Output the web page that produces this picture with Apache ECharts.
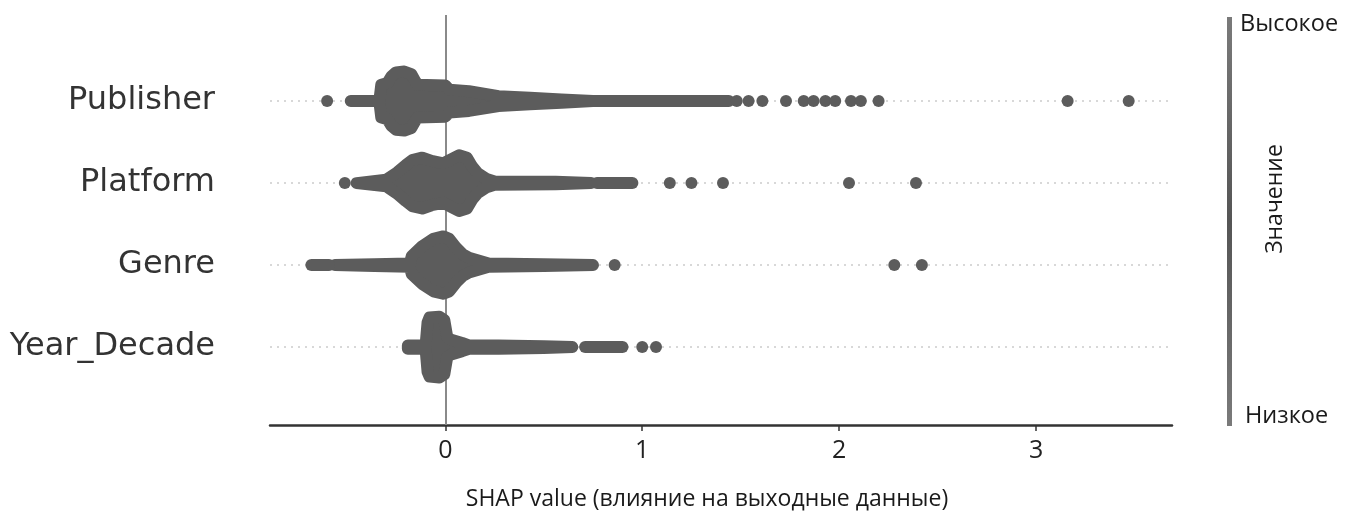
<!DOCTYPE html>
<html>
<head>
<meta charset="utf-8">
<script src="https://cdn.jsdelivr.net/npm/echarts@6/dist/echarts.min.js"></script>
<style>
  html, body { margin: 0; padding: 0; background: #fff; }
  #chart { width: 1354px; height: 518px; }
</style>
</head>
<body>
<div id="chart"></div>
<script>
// признаки, снизу вверх по оси y
var featureNames = ['Year_Decade', 'Genre', 'Platform', 'Publisher'];
var rowTicks = [0, 1, 2, 3];
var xTicks = [0, 1, 2, 3];

// плотное тело роя: [SHAP value, полуширина в долях строки]
var publisherBody = [[-0.48, 0], [-0.335, 0], [-0.325, 0.20], [-0.294, 0.22], [-0.274, 0.30], [-0.25, 0.35],
    [-0.208, 0.36], [-0.173, 0.33], [-0.152, 0.24], [-0.142, 0.20], [0, 0.19], [0.02, 0.14], [0.12, 0.12],
    [0.27, 0.06], [0.43, 0.04], [0.59, 0.02], [0.75, 0], [1.44, 0]];
var platformBody = [[-0.45, 0], [-0.30, 0.04], [-0.244, 0.13], [-0.20, 0.22], [-0.168, 0.28], [-0.117, 0.31],
    [-0.07, 0.27], [-0.01, 0.24], [0.03, 0.29], [0.07, 0.34], [0.11, 0.31], [0.137, 0.20], [0.165, 0.12],
    [0.21, 0.05], [0.25, 0.02], [0.56, 0.015], [0.74, 0]];
var genreBody = [[-0.56, 0], [-0.36, 0.01], [-0.18, 0.02], [-0.17, 0.11], [-0.117, 0.23], [-0.06, 0.32],
    [-0.01, 0.35], [0.02, 0.32], [0.056, 0.21], [0.09, 0.13], [0.12, 0.09], [0.22, 0.02], [0.5, 0.01], [0.75, 0]];
var yearBody = [[-0.19, 0.02], [-0.10, 0.02], [-0.09, 0.30], [-0.08, 0.36], [-0.03, 0.37], [-0.005, 0.33],
    [0.01, 0.12], [0.03, 0.09], [0.085, 0.05], [0.12, 0.02], [0.27, 0.02], [0.5, 0.01], [0.645, 0]];

// тонкие цепочки точек: [начало, конец]
var publisherRuns = [];
var platformRuns = [[0.77, 0.95]];
var genreRuns = [[-0.68, -0.59]];
var yearRuns = [[0.71, 0.90]];

// отдельные точки
var publisherDots = [-0.60, 1.48, 1.54, 1.61, 1.73, 1.82, 1.87, 1.93, 1.98, 2.06, 2.11, 2.20, 3.16, 3.47];
var platformDots = [-0.51, 1.14, 1.25, 1.41, 2.05, 2.39];
var genreDots = [0.86, 2.28, 2.42];
var yearDots = [1.0, 1.07];

var DOT = '#5c5c5c';
var DOT_SIZE = 12;

var features = [
    { row: 3, body: publisherBody, runs: publisherRuns, dots: publisherDots },
    { row: 2, body: platformBody, runs: platformRuns, dots: platformDots },
    { row: 1, body: genreBody, runs: genreRuns, dots: genreDots },
    { row: 0, body: yearBody, runs: yearRuns, dots: yearDots }
];

var dotData = [];
features.forEach(function (f) {
    f.dots.forEach(function (v) { dotData.push([v, f.row]); });
});

function renderSwarm(params, api) {
    var f = features[params.dataIndex];
    var row = f.row;
    var top = f.body.map(function (p) { return api.coord([p[0], row + p[1]]); });
    var bottom = f.body.slice().reverse().map(function (p) { return api.coord([p[0], row - p[1]]); });
    var children = [{
        type: 'polygon',
        shape: { points: top.concat(bottom) },
        style: { fill: DOT, stroke: DOT, lineWidth: DOT_SIZE, lineJoin: 'round' }
    }];
    f.runs.forEach(function (r) {
        children.push({
            type: 'polyline',
            shape: { points: [api.coord([r[0], row]), api.coord([r[1], row])] },
            style: { fill: null, stroke: DOT, lineWidth: DOT_SIZE, lineCap: 'round' }
        });
    });
    return { type: 'group', children: children };
}

var chart = echarts.init(document.getElementById('chart'));

var rowLine = { color: '#cccccc', type: [2, 5], width: 1.5 };

var option = {
    animation: false,
    grid: { left: 270, right: 182, top: 15, bottom: 93 },
    xAxis: {
        type: 'value',
        min: -0.89,
        max: 3.69,
        name: 'SHAP value (влияние на выходные данные)',
        nameLocation: 'middle',
        nameGap: 63,
        nameTextStyle: { fontFamily: 'Open Sans', fontSize: 23, color: '#1a1a1a', padding: [0, 28, 0, 0] },
        axisLine: { onZero: false, lineStyle: { color: '#333', width: 2.5 } },
        axisTick: { show: true, length: 6, lineStyle: { color: '#333', width: 1.5 }, customValues: xTicks },
        axisLabel: { customValues: xTicks, fontFamily: 'Open Sans', fontSize: 25, color: '#222', margin: 13 },
        splitLine: { show: false }
    },
    yAxis: {
        type: 'value',
        min: -0.95,
        max: 4.05,
        axisLine: { show: false },
        axisTick: { show: false },
        splitLine: { show: false },
        axisLabel: {
            customValues: rowTicks,
            margin: 55,
            fontFamily: 'DejaVu Sans',
            fontSize: 32,
            color: '#333',
            formatter: function (v) { return featureNames[v] || ''; }
        }
    },
    series: [
        {
            type: 'line',
            data: [],
            z: 1,
            silent: true,
            markLine: {
                z: 1,
                symbol: 'none',
                label: { show: false },
                silent: true,
                data: [
                    { yAxis: 0, lineStyle: rowLine },
                    { yAxis: 1, lineStyle: rowLine },
                    { yAxis: 2, lineStyle: rowLine },
                    { yAxis: 3, lineStyle: rowLine },
                    { xAxis: 0, lineStyle: { color: '#8a8a8a', type: 'solid', width: 2 } }
                ]
            }
        },
        {
            type: 'custom',
            coordinateSystem: 'cartesian2d',
            renderItem: renderSwarm,
            clip: false,
            z: 10,
            data: features.map(function (f) { return [0, f.row]; })
        },
        {
            type: 'scatter',
            symbolSize: DOT_SIZE,
            itemStyle: { color: DOT, opacity: 1 },
            z: 11,
            data: dotData
        }
    ],
    graphic: [
        {
            type: 'rect',
            shape: { x: 1227, y: 17, width: 5, height: 409 },
            style: {
                fill: new echarts.graphic.LinearGradient(0, 0, 0, 1, [
                    { offset: 0, color: '#7a7a7a' },
                    { offset: 0.5, color: '#555' },
                    { offset: 1, color: '#7a7a7a' }
                ])
            }
        },
        {
            type: 'text',
            x: 1240, y: 24,
            style: { text: 'Высокое', fontFamily: 'Open Sans', fontSize: 23.5, fill: '#1a1a1a', verticalAlign: 'middle' }
        },
        {
            type: 'text',
            x: 1245, y: 416,
            style: { text: 'Низкое', fontFamily: 'Open Sans', fontSize: 23.5, fill: '#1a1a1a', verticalAlign: 'middle' }
        },
        {
            type: 'text',
            x: 1275, y: 199,
            rotation: Math.PI / 2,
            style: { text: 'Значение', fontFamily: 'Open Sans', fontSize: 23, fill: '#1a1a1a', align: 'center', verticalAlign: 'middle' }
        }
    ]
};

chart.setOption(option);

window.addEventListener('resize', function () {
    chart.resize();
});
</script>
</body>
</html>
